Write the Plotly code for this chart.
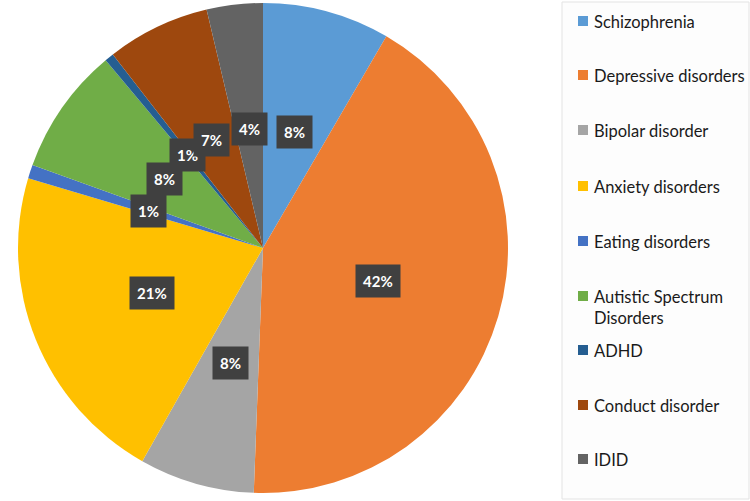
import math
import plotly.graph_objects as go

categories = ["Schizophrenia", "Depressive disorders", "Bipolar disorder", "Anxiety disorders",
              "Eating disorders", "Autistic Spectrum Disorders", "ADHD", "Conduct disorder", "IDID"]
legend_text = ["Schizophrenia", "Depressive disorders", "Bipolar disorder", "Anxiety disorders",
               "Eating disorders", "Autistic Spectrum<br>Disorders", "ADHD", "Conduct disorder", "IDID"]
values = [8.4, 42.2, 7.6, 21.4, 0.9, 8.4, 0.6, 6.8, 3.7]
colors = ["#5B9BD5", "#ED7D31", "#A5A5A5", "#FFC000", "#4472C4", "#70AD47", "#255E91", "#9E480E", "#636363"]

W, H = 750, 501
px0, px1 = 18, 508
py0, py1 = 2, 494  # from top

fig = go.Figure(go.Pie(
    labels=categories, values=values, sort=False, direction="clockwise", rotation=0,
    marker=dict(colors=colors, line=dict(width=0)),
    textinfo="none", hoverinfo="label+percent", showlegend=False,
    domain=dict(x=[px0 / W, px1 / W], y=[1 - py1 / H, 1 - py0 / H]),
))

# data labels in dark boxes at half radius
cx = (px0 + px1) / 2
cy = (py0 + py1) / 2
R = min(px1 - px0, py1 - py0) / 2
total = sum(values)
cum = 0
for v in values:
    mid = (cum + v / 2) / total * 2 * math.pi
    cum += v
    x = cx + 0.49 * R * math.sin(mid)
    y = cy - 0.49 * R * math.cos(mid)
    fig.add_annotation(x=x / W, y=1 - y / H, xref="paper", yref="paper",
                       xanchor="center", yanchor="middle",
                       text="<b>%d%%</b>" % round(v / total * 100), showarrow=False,
                       font=dict(family="Lato, Open Sans, sans-serif", size=15, color="white"),
                       bgcolor="#404040", borderpad=7)

# legend box
fig.add_shape(type="rect", xref="paper", yref="paper", x0=562 / W, x1=749 / W, y0=1 - 499 / H, y1=1 - 2 / H,
              line=dict(color="#E3E3E3", width=1), fillcolor="#FDFDFD")
legend_y = [21, 75, 130, 186, 241, 296, 350, 405, 459]
for name, col, ly in zip(legend_text, colors, legend_y):
    fig.add_shape(type="rect", xref="paper", yref="paper", x0=578 / W, x1=588 / W,
                  y0=1 - (ly + 5) / H, y1=1 - (ly - 5) / H, fillcolor=col, line=dict(width=0))
    fig.add_annotation(x=592 / W, y=1 - (ly - 11) / H, xref="paper", yref="paper", text=name,
                       showarrow=False, xanchor="left", yanchor="top", align="left",
                       font=dict(family="Lato, Open Sans, sans-serif", size=16.5, color="#1a1a1a"))

fig.update_layout(width=W, height=H, margin=dict(l=0, r=0, t=0, b=0),
                  paper_bgcolor="white", plot_bgcolor="white")
fig.write_html("out.html", config={"displayModeBar": False},
               post_script="document.body.style.margin='0';")
